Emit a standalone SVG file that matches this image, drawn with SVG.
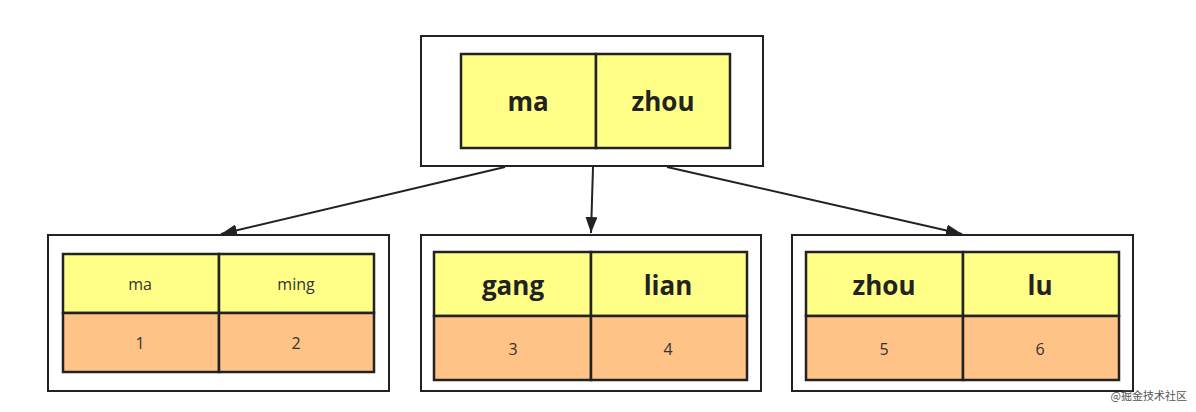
<svg xmlns="http://www.w3.org/2000/svg" width="1196" height="412" viewBox="0 0 1196 412">
<defs>
<marker id="ah" viewBox="0 0 16 12" refX="16" refY="6" markerWidth="16" markerHeight="12" orient="auto" markerUnits="userSpaceOnUse">
<path d="M0,0 L16,6 L0,12 Z" fill="#222"/>
</marker>
<style>
.outer{fill:#fff;stroke:#222;stroke-width:2}
.key{fill:#ffff88;stroke:#222;stroke-width:2.5}
.val{fill:#ffc287;stroke:#222;stroke-width:2.5}
.big{font-family:"Open Sans","Noto Sans",sans-serif;font-weight:bold;font-size:26px;fill:#222;text-anchor:middle}
.small{font-family:"Open Sans","Noto Sans",sans-serif;font-size:16px;fill:#333;text-anchor:middle}
.edge{stroke:#222;stroke-width:2;fill:none;marker-end:url(#ah)}
</style>
</defs>
<rect width="1196" height="412" fill="#fff"/>
<g id="root">
<rect class="outer" x="421" y="36" width="342" height="130"/>
<rect class="key" x="461" y="54" width="135" height="94"/>
<rect class="key" x="596" y="54" width="134" height="94"/>
<text class="big" x="528" y="111">ma</text>
<text class="big" x="663" y="111">zhou</text>
</g>
<g id="left">
<rect class="outer" x="48" y="235" width="341" height="156"/>
<rect class="key" x="63" y="254" width="156" height="59"/>
<rect class="key" x="219" y="254" width="155" height="59"/>
<rect class="val" x="63" y="313" width="156" height="59"/>
<rect class="val" x="219" y="313" width="155" height="59"/>
<text class="small" x="140" y="290">ma</text>
<text class="small" x="296" y="290">ming</text>
<text class="small" x="140" y="349">1</text>
<text class="small" x="296" y="349">2</text>
</g>
<g id="middle">
<rect class="outer" x="421" y="235" width="340" height="156"/>
<rect class="key" x="434" y="252" width="157" height="64"/>
<rect class="key" x="591" y="252" width="156" height="64"/>
<rect class="val" x="434" y="316" width="157" height="64"/>
<rect class="val" x="591" y="316" width="156" height="64"/>
<text class="big" x="513" y="295">gang</text>
<text class="big" x="668" y="295">lian</text>
<text class="small" x="513" y="355">3</text>
<text class="small" x="668" y="355">4</text>
</g>
<g id="right">
<rect class="outer" x="792" y="235" width="341" height="156"/>
<rect class="key" x="806" y="252" width="157" height="64"/>
<rect class="key" x="963" y="252" width="156" height="64"/>
<rect class="val" x="806" y="316" width="157" height="64"/>
<rect class="val" x="963" y="316" width="156" height="64"/>
<text class="big" x="884" y="295">zhou</text>
<text class="big" x="1040" y="295">lu</text>
<text class="small" x="884" y="355">5</text>
<text class="small" x="1040" y="355">6</text>
</g>
<g id="connectors">
<line class="edge" x1="505" y1="167" x2="221" y2="234"/>
<line class="edge" x1="593" y1="167" x2="591" y2="233"/>
<line class="edge" x1="667" y1="167" x2="962" y2="234"/>
</g>
<text x="1187" y="400" font-family="'Noto Sans CJK SC',sans-serif" font-size="11" fill="#555" text-anchor="end">@掘金技术社区</text>
</svg>
